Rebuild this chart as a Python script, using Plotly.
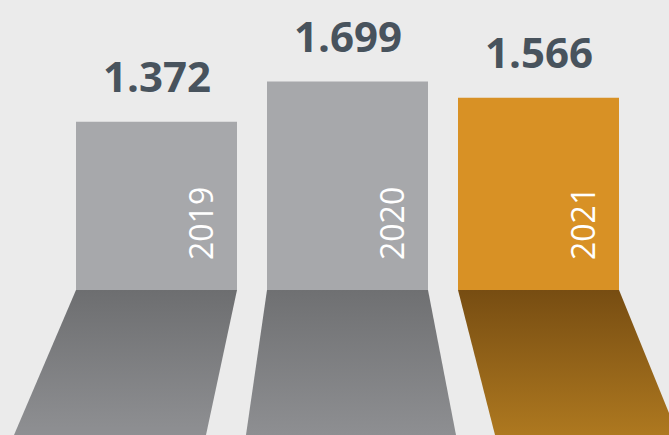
import plotly.graph_objects as go

# --- data ---
years = ["2019", "2020", "2021"]
values = [1.372, 1.699, 1.566]
value_labels = ["1.372", "1.699", "1.566"]

# --- styling ---
W, H = 669, 435
BG = "#ebebeb"
BAR_COLORS = ["#a7a8ab", "#a7a8ab", "#d89125"]
SHADOW_TOP = ["#6d6e70", "#6f7072", "#774d12"]
SHADOW_BOTTOM = ["#909194", "#8f9093", "#b07a20"]
LABEL_COLOR = "#48535d"

# pixel geometry of the category axis / value axis
PITCH = 191.0          # px between bar centres
FIRST_CENTER = 156.5   # px of first bar centre
BAR_PX = 161.0         # bar width in px
BASE_PX = 290.0        # px of value 0 from top
PX_PER_UNIT = 122.7    # px per value unit

# floor "reflection" skew of each shadow edge (px at the bottom edge)
SHADOW_SKEW = [(-62, -31), (-21, 28), (37, 59)]

x_range = [(0 - FIRST_CENTER) / PITCH, (W - FIRST_CENTER) / PITCH]
y_range = [-(H - BASE_PX) / PX_PER_UNIT, BASE_PX / PX_PER_UNIT]
bar_w = BAR_PX / PITCH
xs = list(range(len(years)))

fig = go.Figure()

# shadows on the floor below each bar
y_bot = y_range[0] - 0.05
for i, (sl, sr) in enumerate(SHADOW_SKEW):
    xl, xr = i - bar_w / 2, i + bar_w / 2
    k = y_bot / y_range[0]  # scale skew to the slightly extended bottom
    fig.add_trace(go.Scatter(
        x=[xl, xr, xr + k * sr / PITCH, xl + k * sl / PITCH, xl],
        y=[0, 0, y_bot, y_bot, 0],
        mode="lines", fill="toself",
        line=dict(width=0),
        fillgradient=dict(type="vertical",
                          colorscale=[[0, SHADOW_BOTTOM[i]], [1, SHADOW_TOP[i]]]),
        hoverinfo="skip", showlegend=False,
    ))

fig.add_trace(go.Bar(
    x=xs, y=values, width=bar_w,
    marker=dict(color=BAR_COLORS, line=dict(width=0)),
    hoverinfo="skip", showlegend=False,
))

for i, (v, lab, yr) in enumerate(zip(values, value_labels, years)):
    fig.add_annotation(
        x=i, y=v, text=f"<b>{lab}</b>", showarrow=False,
        xanchor="center", yanchor="bottom", yshift=16,
        font=dict(family="Open Sans", size=42, color=LABEL_COLOR),
    )
    fig.add_annotation(
        x=i + 43.5 / PITCH, y=66 / PX_PER_UNIT, text=yr, showarrow=False,
        textangle=-90, xanchor="center", yanchor="middle",
        font=dict(family="Open Sans", size=32, color="#ffffff"),
    )

fig.update_layout(
    width=W, height=H,
    margin=dict(l=0, r=0, t=0, b=0),
    paper_bgcolor=BG, plot_bgcolor=BG,
    xaxis=dict(range=x_range, visible=False, fixedrange=True),
    yaxis=dict(range=y_range, visible=False, fixedrange=True),
    showlegend=False,
)

fig.write_html("out.html")
